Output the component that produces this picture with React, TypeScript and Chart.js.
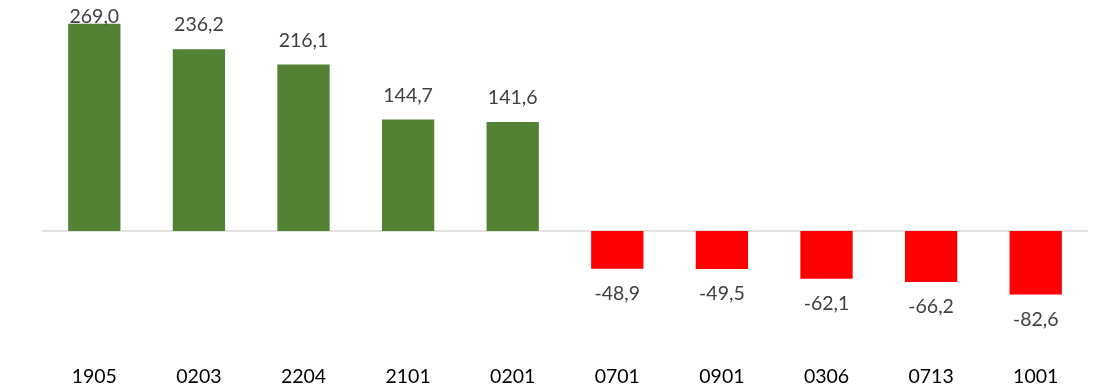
import React, { useEffect, useRef } from "react";
import { Chart, registerables } from "chart.js";

Chart.register(...registerables);

const categories = ["1905", "0203", "2204", "2101", "0201", "0701", "0901", "0306", "0713", "1001"];
const values = [269.0, 236.2, 216.1, 144.7, 141.6, -48.9, -49.5, -62.1, -66.2, -82.6];

const GREEN = "#548235";
const RED = "#FF0000";
const FONT = "Lato, 'Open Sans', sans-serif";

const zeroLinePlugin = {
  id: "zeroLine",
  beforeDatasetsDraw(chart: any) {
    const { ctx, chartArea, scales } = chart;
    const y = scales.y.getPixelForValue(0);
    ctx.save();
    ctx.strokeStyle = "#d9d9d9";
    ctx.lineWidth = 1.5;
    ctx.beginPath();
    ctx.moveTo(chartArea.left, y);
    ctx.lineTo(chartArea.right, y);
    ctx.stroke();
    ctx.restore();
  },
};

const labelPlugin = {
  id: "valueLabels",
  afterDatasetsDraw(chart: any) {
    const { ctx } = chart;
    const meta = chart.getDatasetMeta(0);
    ctx.save();
    ctx.font = `19.5px ${FONT}`;
    ctx.fillStyle = "#404040";
    ctx.textAlign = "center";
    ctx.textBaseline = "middle";
    meta.data.forEach((bar: any, i: number) => {
      const v = values[i];
      const text = v.toFixed(1).replace(".", ",");
      let cy: number;
      if (v >= 0) {
        cy = Math.max(bar.y - 24, 17);
      } else {
        cy = bar.y + 25;
      }
      ctx.fillText(text, bar.x, cy);
    });
    ctx.restore();
  },
};

export default function App() {
  const canvasRef = useRef<HTMLCanvasElement | null>(null);

  useEffect(() => {
    document.body.style.margin = "0";
    const canvas = canvasRef.current;
    if (!canvas) return;
    const chart = new Chart(canvas, {
      type: "bar",
      data: {
        labels: categories,
        datasets: [
          {
            data: values,
            backgroundColor: values.map((v) => (v >= 0 ? GREEN : RED)),
            borderWidth: 0,
            categoryPercentage: 1,
            barPercentage: 0.5,
          },
        ],
      },
      options: {
        animation: false,
        responsive: false,
        maintainAspectRatio: false,
        layout: { padding: { left: 42, right: 10, top: 0, bottom: 0 } },
        plugins: {
          legend: { display: false },
          tooltip: { enabled: false },
          title: { display: false },
        },
        scales: {
          x: {
            grid: { display: false, drawTicks: false },
            border: { display: false },
            afterFit: (scale: any) => {
              scale.height = 36.8;
            },
            ticks: {
              color: "#000000",
              font: { family: FONT, size: 19.5 },
              padding: 11,
              maxRotation: 0,
              autoSkip: false,
            },
          },
          y: {
            display: false,
            min: -160,
            max: 300,
          },
        },
      },
      plugins: [zeroLinePlugin, labelPlugin],
    });
    return () => chart.destroy();
  }, []);

  return (
    <div style={{ width: 1098, height: 391 }}>
      <canvas ref={canvasRef} width={1098} height={391} style={{ display: "block" }} />
    </div>
  );
}
